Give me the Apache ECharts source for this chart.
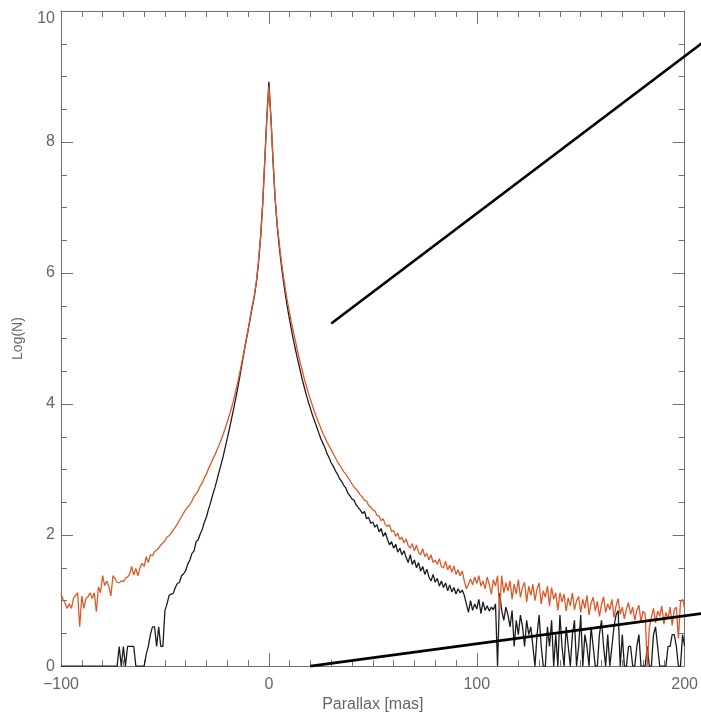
<!DOCTYPE html>
<html>
<head>
<meta charset="utf-8">
<script src="https://cdn.jsdelivr.net/npm/echarts@6/dist/echarts.min.js"></script>
<style>
  html, body { margin: 0; padding: 0; background: #ffffff; overflow: hidden; }
  #chart { width: 701px; height: 718px; }
</style>
</head>
<body>
<div id="chart"></div>
<script>
// Parallax histogram bins: 1 mas wide, from -100 to 200 mas
const binStart = -100;
const binCount = 301;

// Log(N) for the full sample (orange)
const logNAll = [
  1.10, 1.02, 0.96, 0.88, 0.95, 0.88, 1.03, 1.08, 1.12, 0.60,
  1.07, 0.88, 1.03, 1.06, 1.12, 1.03, 1.12, 0.83, 1.21, 1.12,
  1.38, 1.23, 1.30, 1.22, 1.07, 1.38, 1.33, 1.28, 1.27, 1.30,
  1.29, 1.34, 1.36, 1.40, 1.52, 1.39, 1.49, 1.38, 1.50, 1.57,
  1.52, 1.67, 1.58, 1.70, 1.68, 1.75, 1.77, 1.80, 1.85, 1.88,
  1.91, 1.97, 1.99, 2.03, 2.08, 2.12, 2.17, 2.23, 2.28, 2.34,
  2.39, 2.43, 2.47, 2.52, 2.59, 2.63, 2.68, 2.75, 2.80, 2.88,
  2.93, 3.02, 3.08, 3.16, 3.22, 3.30, 3.37, 3.45, 3.54, 3.63,
  3.73, 3.83, 3.94, 4.06, 4.19, 4.33, 4.48, 4.64, 4.80, 4.97,
  5.14, 5.32, 5.50, 5.66, 5.88, 6.18, 6.55, 7.05, 7.70, 8.35,
  8.85, 8.35, 7.72, 7.15, 6.75, 6.45, 6.18, 5.95, 5.74, 5.55,
  5.38, 5.22, 5.07, 4.93, 4.78, 4.64, 4.52, 4.39, 4.28, 4.17,
  4.07, 3.97, 3.88, 3.79, 3.71, 3.63, 3.55, 3.49, 3.42, 3.36,
  3.30, 3.24, 3.18, 3.12, 3.07, 3.02, 2.97, 2.93, 2.88, 2.83,
  2.78, 2.73, 2.70, 2.66, 2.61, 2.58, 2.53, 2.52, 2.45, 2.43,
  2.38, 2.37, 2.30, 2.29, 2.22, 2.25, 2.16, 2.13, 2.16, 2.05,
  2.07, 1.98, 2.03, 1.93, 1.97, 1.88, 1.94, 1.84, 1.80, 1.87,
  1.76, 1.85, 1.74, 1.70, 1.79, 1.67, 1.72, 1.62, 1.70, 1.58,
  1.62, 1.55, 1.64, 1.52, 1.50, 1.60, 1.47, 1.54, 1.43, 1.53,
  1.40, 1.47, 1.38, 1.45, 1.30, 1.18, 1.25, 1.33, 1.24, 1.36,
  1.26, 1.38, 1.22, 1.30, 1.18, 1.36, 1.25, 1.10, 1.32, 1.22,
  1.38, 0.85, 1.38, 1.12, 1.27, 1.15, 1.30, 1.02, 1.25, 1.10,
  1.32, 1.05, 1.20, 1.28, 0.98, 1.22, 1.08, 1.25, 1.00, 1.18,
  1.27, 0.95, 1.15, 1.05, 1.22, 0.92, 1.20, 1.02, 1.12, 0.85,
  1.12, 0.98, 1.10, 0.84, 1.04, 0.92, 1.12, 0.86, 1.00, 1.06,
  0.82, 1.02, 0.88, 1.08, 0.78, 0.96, 1.05, 0.84, 0.99, 0.76,
  0.94, 1.06, 0.82, 0.95, 0.86, 1.02, 0.74, 0.92, 1.03, 0.79,
  0.90, 0.72, 0.87, 0.97, 0.79, 0.90, 0.70, 0.85, 0.93, 0.67,
  0.84, 0.80, 0.00, 0.58, 0.74, 0.88, 0.66, 0.84, 0.76, 0.92,
  0.64, 0.82, 0.72, 0.90, 0.62, 0.86, 0.90, 0.42, 0.98, 1.02,
  0.88
];

// Log(N) for the selected sub-sample (black)
const logNSel = [
  0, 0, 0, 0, 0, 0, 0, 0, 0, 0,
  0, 0, 0, 0, 0, 0, 0, 0, 0, 0,
  0, 0, 0, 0, 0, 0, 0, 0, 0.30, 0,
  0.30, 0, 0.30, 0.30, 0.30, 0.30, 0, 0, 0, 0,
  0, 0.18, 0.30, 0.48, 0.60, 0.60, 0.30, 0.60, 0.30, 0.30,
  0.85, 0.95, 1.08, 1.10, 1.11, 1.20, 1.26, 1.28, 1.38, 1.41,
  1.46, 1.56, 1.62, 1.72, 1.76, 1.90, 1.93, 2.02, 2.09, 2.20,
  2.28, 2.40, 2.50, 2.62, 2.72, 2.84, 2.96, 3.08, 3.20, 3.34,
  3.48, 3.62, 3.77, 3.92, 4.08, 4.24, 4.42, 4.60, 4.78, 4.96,
  5.12, 5.30, 5.48, 5.64, 5.86, 6.16, 6.54, 7.04, 7.70, 8.37,
  8.92, 8.36, 7.71, 7.13, 6.72, 6.40, 6.12, 5.88, 5.66, 5.46,
  5.28, 5.11, 4.95, 4.80, 4.66, 4.52, 4.38, 4.26, 4.14, 4.03,
  3.93, 3.83, 3.74, 3.65, 3.56, 3.47, 3.40, 3.33, 3.24, 3.18,
  3.10, 3.05, 2.98, 2.93, 2.86, 2.82, 2.76, 2.72, 2.64, 2.60,
  2.55, 2.53, 2.46, 2.42, 2.38, 2.33, 2.36, 2.25, 2.27, 2.18,
  2.20, 2.12, 2.16, 2.05, 2.10, 1.98, 2.04, 1.94, 1.85, 1.90,
  1.80, 1.86, 1.74, 1.80, 1.70, 1.76, 1.66, 1.58, 1.70, 1.55,
  1.62, 1.50, 1.58, 1.45, 1.52, 1.40, 1.48, 1.36, 1.30, 1.40,
  1.28, 1.34, 1.22, 1.30, 1.20, 1.27, 1.15, 1.24, 1.13, 1.20,
  1.10, 1.18, 1.12, 1.16, 1.08, 0.95, 0.82, 1.00, 0.85, 0.95,
  0.87, 1.02, 0.80, 0.98, 0.85, 0.92, 0.84, 0.90, 0.86, 0.95,
  0.00, 1.11, 0.85, 0.70, 0.90, 0.78, 0.60, 0.85, 0.30, 0.70,
  0.48, 0.78, 0.60, 0.30, 0.70, 0.48, 0.60, 0.30, 0.00, 0.48,
  0.78, 0.30, 0.00, 0.00, 0.60, 0.30, 0.70, 0.00, 0.48, 0.00,
  0.78, 0.30, 0.00, 0.60, 0.30, 0.00, 0.48, 0.70, 0.00, 0.30,
  0.78, 0.00, 0.48, 0.30, 0.00, 0.60, 0.30, 0.00, 0.00, 0.48,
  0.70, 0.30, 0.00, 0.48, 0.00, 0.30, 0.60, 0.78, 0.85, 0.00,
  0.48, 0.00, 0.00, 0.30, 0.30, 0.00, 0.00, 0.30, 0.48, 0.00,
  0.00, 0.00, 0.30, 0.00, 0.00, 0.48, 0.60, 0.30, 0.00, 0.00,
  0.00, 0.00, 0.30, 0.30, 0.48, 0.48, 0.30, 0.00, 0.00, 0.48,
  0.30
];

// Two reference lines as segments [x1, y1, x2, y2] in (parallax, Log(N))
const refSegments = [
  [30, 5.23, 210, 9.55],
  [20, 0.0, 210, 0.81]
];

// Axis ranges and label steps
const xRange = [-100, 200];
const xStep = 100;
const yRange = [0, 10];
const yStep = 2;

const parallax = [];
for (let i = 0; i < binCount; i++) parallax.push(binStart + i);
const pairs = (vals) => vals.map((v, i) => [parallax[i], v]);

const axisGrey = '#707070';
const textGrey = '#666666';
const font = 'Liberation Sans';

function xAxisDef(pos, showLabels) {
  return {
    type: 'value', position: pos, min: xRange[0], max: xRange[1], interval: xStep,
    axisLine: { show: true, onZero: false, lineStyle: { color: axisGrey, width: 1 } },
    axisTick: { show: true, inside: true, length: 13, lineStyle: { color: axisGrey } },
    minorTick: { show: true, splitNumber: 10, length: 6, lineStyle: { color: axisGrey } },
    splitLine: { show: false },
    axisLabel: {
      show: showLabels, color: textGrey, fontSize: 16, fontFamily: font, margin: 10,
      formatter: (v) => (v < 0 ? '\u2212' + Math.abs(v) : String(v))
    },
    name: showLabels ? 'Parallax [mas]' : '',
    nameLocation: 'middle', nameGap: 29,
    nameTextStyle: { color: textGrey, fontSize: 16, fontFamily: font }
  };
}

function yAxisDef(pos, showLabels) {
  return {
    type: 'value', position: pos, min: yRange[0], max: yRange[1], interval: yStep,
    axisLine: { show: true, onZero: false, lineStyle: { color: axisGrey, width: 1 } },
    axisTick: { show: true, inside: true, length: 12, lineStyle: { color: axisGrey } },
    minorTick: { show: true, splitNumber: 4, length: 6, lineStyle: { color: axisGrey } },
    splitLine: { show: false },
    axisLabel: {
      show: showLabels, color: textGrey, fontSize: 16, fontFamily: font, margin: 6,
      verticalAlignMaxLabel: 'top'
    },
    name: showLabels ? 'Log(N)' : '',
    nameLocation: 'middle', nameGap: 36, nameRotate: 90,
    nameTextStyle: { color: textGrey, fontSize: 14, fontFamily: font }
  };
}

const chart = echarts.init(document.getElementById('chart'), null, { renderer: 'canvas', width: 701, height: 718 });
chart.setOption({
  animation: false,
  backgroundColor: '#ffffff',
  grid: { left: 61, top: 11, width: 627, height: 660, containLabel: false },
  xAxis: [xAxisDef('bottom', true), xAxisDef('top', false)],
  yAxis: [yAxisDef('left', true), yAxisDef('right', false)],
  series: [
    {
      name: 'selected', type: 'line', xAxisIndex: 0, yAxisIndex: 0,
      data: pairs(logNSel), showSymbol: false, symbol: 'none',
      lineStyle: { color: '#1c1c1c', width: 1.3 }, z: 2
    },
    {
      name: 'all', type: 'line', xAxisIndex: 0, yAxisIndex: 0,
      data: pairs(logNAll), showSymbol: false, symbol: 'none',
      lineStyle: { color: '#dc5a28', width: 1.3 }, z: 3
    },
    {
      // straight reference lines, allowed to run past the plot frame
      name: 'reference', type: 'custom', xAxisIndex: 0, yAxisIndex: 0,
      clip: false, z: 4,
      data: refSegments,
      encode: { x: [0, 2], y: [1, 3] },
      renderItem: (params, api) => {
        const p1 = api.coord([api.value(0), api.value(1)]);
        const p2 = api.coord([api.value(2), api.value(3)]);
        return {
          type: 'line',
          shape: { x1: p1[0], y1: p1[1], x2: p2[0], y2: p2[1] },
          style: { stroke: '#000000', lineWidth: 2.6 }
        };
      }
    }
  ]
});
</script>
</body>
</html>
